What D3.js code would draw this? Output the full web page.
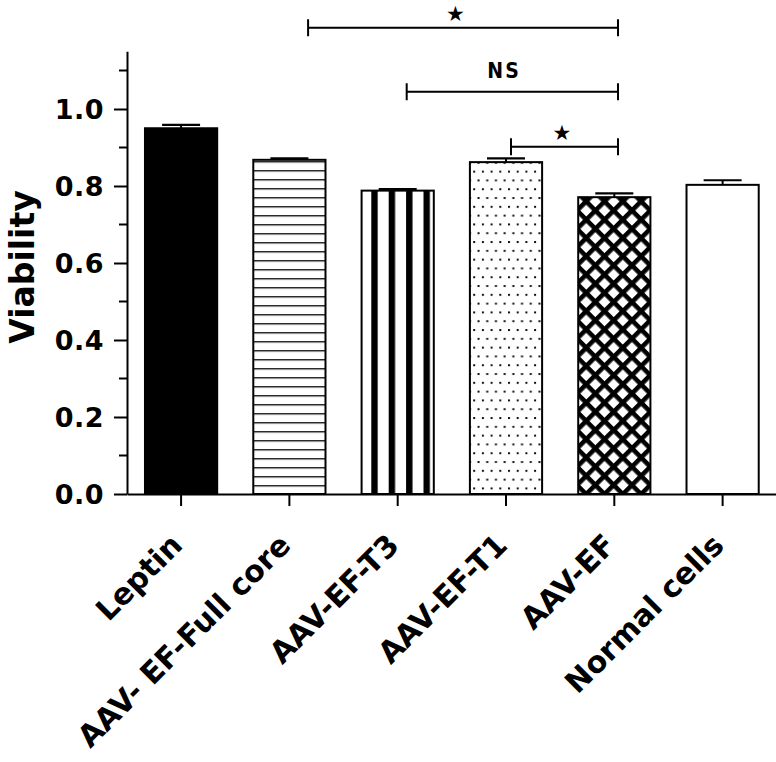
<!DOCTYPE html>
<html><head><meta charset="utf-8">
<script src="https://cdn.jsdelivr.net/npm/d3@7"></script>
<style>body{margin:0;background:#fff}svg{display:block}</style>
</head><body><svg id="c" width="776" height="762"></svg>
<script>
// ---- data ----
const categories = ["Leptin", "AAV- EF-Full core", "AAV-EF-T3", "AAV-EF-T1", "AAV-EF", "Normal cells"];
const viability = [0.950, 0.868, 0.788, 0.862, 0.771, 0.803];
const errors = [0.009, 0.004, 0.004, 0.010, 0.010, 0.012];
const fillKinds = ["solid", "hlines", "vstripes", "dots", "crosshatch", "none"];
const yTicks = [0, 0.2, 0.4, 0.6, 0.8, 1.0];
const yMinorTicks = [0.1, 0.3, 0.5, 0.7, 0.9, 1.1];
const comparisons = [
  { from: "AAV- EF-Full core", to: "AAV-EF", level: 1.211, label: "★" },
  { from: "AAV-EF-T3", to: "AAV-EF", level: 1.045, label: "NS" },
  { from: "AAV-EF-T1", to: "AAV-EF", level: 0.902, label: "★" }
];
const yTitle = "Viability";

// ---- layout ----
const svg = d3.select("#c");
const x0 = 127, yBase = 494, pxPerUnit = 385;
const y = d3.scaleLinear().domain([0, 1.15]).range([yBase, yBase - 1.15 * pxPerUnit]);
const x = d3.scaleBand().domain(categories).range([x0, 776.7]).paddingInner(1 / 3).paddingOuter(0.166);
const bw = x.bandwidth();
const data = categories.map((c, i) => ({ c, v: viability[i], e: errors[i], kind: fillKinds[i] }));

const defs = svg.append("defs");
function makePattern(d, i) {
  const left = x(d.c), top = y(d.v);
  const id = "pat" + i;
  if (d.kind === "hlines") {
    const p = defs.append("pattern").attr("id", id).attr("patternUnits", "userSpaceOnUse")
      .attr("x", 0).attr("y", top + 11 - 4.65).attr("width", 20).attr("height", 9);
    p.append("rect").attr("width", 20).attr("height", 9).attr("fill", "#fff");
    p.append("rect").attr("y", 4).attr("width", 20).attr("height", 1.3).attr("fill", "#000");
  } else if (d.kind === "vstripes") {
    const p = defs.append("pattern").attr("id", id).attr("patternUnits", "userSpaceOnUse")
      .attr("x", left + 9.7).attr("y", 0).attr("width", 17.4).attr("height", 20);
    p.append("rect").attr("width", 17.4).attr("height", 20).attr("fill", "#fff");
    p.append("rect").attr("width", 6.4).attr("height", 20).attr("fill", "#000");
  } else if (d.kind === "dots") {
    const p = defs.append("pattern").attr("id", id).attr("patternUnits", "userSpaceOnUse")
      .attr("x", left + 3.3).attr("y", top + 8.5).attr("width", 8.7).attr("height", 17.6);
    p.append("rect").attr("width", 8.7).attr("height", 17.6).attr("fill", "#fff");
    p.append("rect").attr("x", 0).attr("y", 0).attr("width", 2).attr("height", 2).attr("fill", "#111");
    p.append("rect").attr("x", 4.35).attr("y", 8.8).attr("width", 2).attr("height", 2).attr("fill", "#111");
  } else if (d.kind === "crosshatch") {
    const s = 18.3 / Math.SQRT2, w = 4.6;
    const p = defs.append("pattern").attr("id", id).attr("patternUnits", "userSpaceOnUse")
      .attr("width", s).attr("height", s)
      .attr("patternTransform", `translate(${left + 8},${top + 1}) rotate(45)`);
    p.append("rect").attr("width", s).attr("height", s).attr("fill", "#fff");
    p.append("rect").attr("width", s).attr("height", w).attr("fill", "#000");
    p.append("rect").attr("width", w).attr("height", s).attr("fill", "#000");
  }
  if (d.kind === "solid") return "#000";
  if (d.kind === "none") return "#fff";
  return `url(#${id})`;
}

// bars
const g = svg.append("g");
g.selectAll("rect.bar").data(data).join("rect").attr("class", "bar")
  .attr("x", d => x(d.c)).attr("y", d => y(d.v))
  .attr("width", bw).attr("height", d => y(0) - y(d.v))
  .attr("fill", (d, i) => makePattern(d, i))
  .attr("stroke", "#000").attr("stroke-width", 2);

// error bars
const capW = 38;
g.selectAll("line.err").data(data).join("line").attr("class", "err")
  .attr("x1", d => x(d.c) + bw / 2).attr("x2", d => x(d.c) + bw / 2)
  .attr("y1", d => y(d.v)).attr("y2", d => y(d.v + d.e))
  .attr("stroke", "#000").attr("stroke-width", 2);
g.selectAll("line.cap").data(data).join("line").attr("class", "cap")
  .attr("x1", d => x(d.c) + bw / 2 - capW / 2).attr("x2", d => x(d.c) + bw / 2 + capW / 2)
  .attr("y1", d => y(d.v + d.e)).attr("y2", d => y(d.v + d.e))
  .attr("stroke", "#000").attr("stroke-width", 2.2);

// y axis
const yAxis = svg.append("g").attr("transform", `translate(${x0},0)`)
  .call(d3.axisLeft(y).tickValues(yTicks).tickSize(13).tickSizeOuter(0).tickPadding(10).tickFormat(d3.format(".1f")));
yAxis.select(".domain").attr("stroke-width", 2);
yAxis.selectAll(".tick line").attr("stroke-width", 2);
yAxis.selectAll(".tick text").attr("font-family", "DejaVu Sans").attr("font-weight", "bold")
  .attr("font-size", 27).attr("letter-spacing", 0.5).attr("fill", "#000").attr("dy", "0.36em");
svg.append("g").selectAll("line").data(yMinorTicks).join("line")
  .attr("x1", x0 - 8).attr("x2", x0).attr("y1", d => y(d)).attr("y2", d => y(d))
  .attr("stroke", "#000").attr("stroke-width", 2);

// x axis
const xAxis = svg.append("g").attr("transform", `translate(0,${yBase})`)
  .call(d3.axisBottom(x).tickSize(12).tickSizeOuter(0).tickFormat(""));
xAxis.select(".domain").attr("stroke-width", 2);
xAxis.selectAll(".tick line").attr("stroke-width", 2);

// x labels
svg.append("g").selectAll("text").data(categories).join("text")
  .attr("transform", d => `translate(${x(d) + bw / 2 + 3},${yBase + 53}) rotate(-45)`)
  .attr("text-anchor", "end")
  .attr("font-family", "DejaVu Sans").attr("font-weight", "bold").attr("font-size", 30)
  .attr("fill", "#000").text(d => d);

// y title
svg.append("text").attr("transform", `translate(34,267) rotate(-90)`)
  .attr("text-anchor", "middle")
  .attr("font-family", "DejaVu Sans").attr("font-weight", "bold").attr("font-size", 33)
  .attr("fill", "#000").text(yTitle);

// significance brackets
const leftOff = [18.7, 9, 5], labelOff = [-7.7, -8.3, -2.6];
const bg = svg.append("g");
comparisons.forEach((cmp, i) => {
  const xa = x(cmp.from) + bw / 2 + leftOff[i];
  const xb = x(cmp.to) + bw / 2 + 3.7;
  const yy = y(cmp.level);
  bg.append("path").attr("d", `M${xa},${yy - 8.5}V${yy + 8.5}M${xa},${yy}H${xb}M${xb},${yy - 8.5}V${yy + 8.5}`)
    .attr("fill", "none").attr("stroke", "#000").attr("stroke-width", 2);
  const isNS = cmp.label === "NS";
  bg.append("text").attr("x", (xa + xb) / 2 + labelOff[i]).attr("y", yy - (isNS ? 14 : 7))
    .attr("text-anchor", "middle")
    .attr("font-family", isNS ? "DejaVu Sans Condensed" : "DejaVu Sans")
    .attr("font-weight", "bold").attr("font-size", isNS ? 21 : 21)
    .attr("letter-spacing", isNS ? 2 : 0)
    .attr("fill", "#000").text(cmp.label);
});
</script></body></html>
